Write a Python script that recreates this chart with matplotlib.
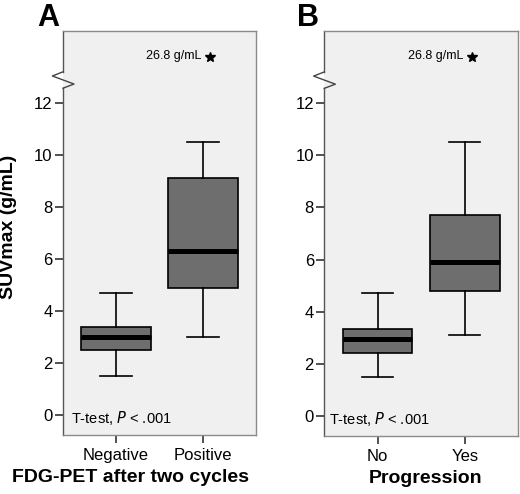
import matplotlib
matplotlib.use("Agg")
import matplotlib.pyplot as plt
import matplotlib.transforms as mtransforms

plt.rcParams['font.family'] = ['Liberation Sans', 'DejaVu Sans']

# ---- data ----
panel_letters = ["A", "B"]
xlabels = ["FDG-PET after two cycles", "Progression"]
categories_A = ["Negative", "Positive"]
categories_B = ["No", "Yes"]
# box statistics (whisker low, Q1, median, Q3, whisker high)
whislo_A = [1.5, 3.0]
q1_A = [2.5, 4.9]
med_A = [3.0, 6.3]
q3_A = [3.4, 9.1]
whishi_A = [4.7, 10.5]

whislo_B = [1.5, 3.1]
q1_B = [2.4, 4.8]
med_B = [2.95, 5.9]
q3_B = [3.35, 7.7]
whishi_B = [4.7, 10.5]

outlier_label = "26.8 g/mL"
yticks = [0, 2, 4, 6, 8, 10, 12]
ylabel = "SUVmax (g/mL)"
test_text = "T-test, $\\mathit{P}$ < .001"

fig = plt.figure(figsize=(5.2, 4.94), dpi=100)
axA = fig.add_axes([63/520, 59/494, 193/520, 404/494])
axB = fig.add_axes([324.3/520, 58/494, 193.7/520, 405/494])

panels = [
    (axA, categories_A, whislo_A, q1_A, med_A, q3_A, whishi_A, 0.042, -0.135),
    (axB, categories_B, whislo_B, q1_B, med_B, q3_B, whishi_B, 0.022, -0.141),
]

for i, (ax, cats, wl, q1, md, q3, wh, tx, lx) in enumerate(panels):
    stats = []
    for j in range(len(cats)):
        stats.append(dict(label=cats[j], whislo=wl[j], q1=q1[j], med=md[j],
                          q3=q3[j], whishi=wh[j], fliers=[]))
    ax.set_facecolor("#f0f0f0")
    ax.bxp(stats, positions=[1, 2], widths=0.8, patch_artist=True,
           showfliers=False, capwidths=0.36,
           boxprops=dict(facecolor="#6e6e6e", edgecolor="black", linewidth=1.2),
           medianprops=dict(color="black", linewidth=3.6, solid_capstyle="butt"),
           whiskerprops=dict(color="black", linewidth=1.2),
           capprops=dict(color="black", linewidth=1.2))
    ax.set_xlim(0.39, 2.61)
    ax.set_ylim(-0.77, 14.77)
    ax.set_yticks(yticks)
    ax.set_yticklabels([str(t) for t in yticks], fontsize=12)
    ax.set_xticks([1, 2])
    ax.set_xticklabels(cats, fontsize=12)
    ax.tick_params(axis='both', length=6, width=1.2, color="#333333", pad=1.5)
    ax.tick_params(axis='x', pad=3)
    for s in ["top", "right", "bottom"]:
        ax.spines[s].set_color("#8a8a8a")
        ax.spines[s].set_linewidth(1.0)
    ax.spines["left"].set_visible(False)
    # left spine with break
    trans = mtransforms.blended_transform_factory(ax.transAxes, ax.transData)
    ax.plot([0, 0], [-0.77, 12.57], transform=trans, color="#555555", lw=1.0, clip_on=False)
    ax.plot([0, 0], [13.2, 14.77], transform=trans, color="#555555", lw=1.0, clip_on=False)
    ax.plot([0, -0.055, 0.057, 0], [13.2, 13.04, 12.73, 12.57], transform=trans,
            color="#444444", lw=1.0, clip_on=False)
    # extreme outlier (axis broken)
    ax.plot([2.08], [13.78], marker="*", color="black", markersize=7, linestyle="none")
    ax.text(1.985, 13.8, outlier_label, ha="right", va="center", fontsize=9)
    ax.text(tx, -0.12, test_text, transform=trans, ha="left", va="center", fontsize=10.5)
    ax.set_xlabel(xlabels[i], fontsize=14, fontweight="bold")
    ax.text(lx, 1.012, panel_letters[i], transform=ax.transAxes,
            fontsize=22, fontweight="bold", ha="left", va="baseline")

axA.xaxis.set_label_coords(0.35, -0.085)
axB.xaxis.set_label_coords(0.525, -0.085)
axA.set_ylabel(ylabel, fontsize=14, fontweight="bold", va="center")
axA.yaxis.set_label_coords(-0.28, 0.515)

fig.savefig("out.png", dpi=100)
